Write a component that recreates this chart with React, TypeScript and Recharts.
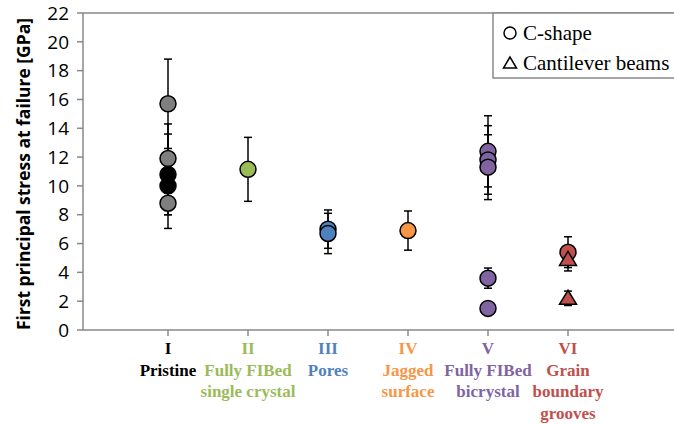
import React from 'react';
import { ScatterChart, Scatter, XAxis, YAxis, ErrorBar, ReferenceLine } from 'recharts';

const categories = ['I', 'II', 'III', 'IV', 'V', 'VI'];
const categoryLines = [
  ['Pristine'],
  ['Fully FIBed', 'single crystal'],
  ['Pores'],
  ['Jagged', 'surface'],
  ['Fully FIBed', 'bicrystal'],
  ['Grain', 'boundary', 'grooves'],
];
const categoryColors = ['#000000', '#9BBB59', '#4F81BD', '#F79646', '#8064A2', '#C0504D'];

// C-shape values per group (GPa) and their error bars
const greyY = [15.7, 11.9, 8.8];
const greyErr = [3.1, 2.4, 1.75];
const blackY = [10.8, 10.0];
const blackErr = [2.8, 2.0];
const greenY = [11.15];
const greenErr = [2.22];
const blueY = [7.0, 6.7];
const blueErr = [1.33, 1.4];
const orangeY = [6.9];
const orangeErr = [1.36];
const purpleY = [12.4, 11.8, 11.3, 3.6, 1.5];
const purpleErr = [2.47, 2.38, 2.25, 0.7, 0];
const redCircleY = [5.4];
const redCircleErr = [1.07];
// cantilever beams
const redTriY = [4.9, 2.2];
const redTriErr = [0.8, 0.5];

const yTicks = [0, 2, 4, 6, 8, 10, 12, 14, 16, 18, 20, 22];
const axisGrey = '#898989';

const build = (cat: number, ys: number[], errs: number[]) =>
  ys.map((y, i) => ({ x: cat, y, err: errs[i] }));

const series = [
  { name: 'grey', data: build(1, greyY, greyErr), fill: '#7F7F7F', tri: false },
  { name: 'black', data: build(1, blackY, blackErr), fill: '#000000', tri: false },
  { name: 'green', data: build(2, greenY, greenErr), fill: '#9BBB59', tri: false },
  { name: 'blue', data: build(3, blueY, blueErr), fill: '#4F81BD', tri: false },
  { name: 'orange', data: build(4, orangeY, orangeErr), fill: '#F79646', tri: false },
  { name: 'purple', data: build(5, purpleY, purpleErr), fill: '#8064A2', tri: false },
  { name: 'redCircle', data: build(6, redCircleY, redCircleErr), fill: '#C0504D', tri: false },
  { name: 'redTri', data: build(6, redTriY, redTriErr), fill: '#C0504D', tri: true },
];

const circleShape = (fill: string) => (p: any) => (
  <circle cx={p.cx} cy={p.cy} r={8} fill={fill} stroke="#000" strokeWidth={1.5} />
);

const triShape = (fill: string) => (p: any) => (
  <polygon
    points={`${p.cx},${p.cy - 8} ${p.cx - 8.5},${p.cy + 6} ${p.cx + 8.5},${p.cy + 6}`}
    fill={fill}
    stroke="#000"
    strokeWidth={1.5}
  />
);

const CatTick = (props: any) => {
  const { x, y, payload } = props;
  const i = payload.value - 1;
  const lines = [categories[i], ...categoryLines[i]];
  return (
    <g>
      {lines.map((t, k) => (
        <text
          key={k}
          x={x}
          y={y + 16 + k * 21.5}
          textAnchor="middle"
          fill={i === 0 ? '#000' : categoryColors[i]}
          fontFamily="Liberation Serif"
          fontWeight="bold"
          fontSize={17}
        >
          {t}
        </text>
      ))}
    </g>
  );
};

const yLabel = () => (
  <text
    x={23}
    y={174}
    transform="rotate(-90 23 174)"
    textAnchor="middle"
    dominantBaseline="central"
    fontFamily="Open Sans"
    fontWeight="bold"
    fontSize={17}
    fill="#000"
    textLength={312}
    lengthAdjust="spacingAndGlyphs"
  >
    First principal stress at failure [GPa]
  </text>
);

export default function App() {
  return (
    <div style={{ position: 'fixed', left: 0, top: 0, width: 674, height: 424, background: '#fff' }}>
      <ScatterChart width={674} height={424} margin={{ top: 13, right: 0, bottom: 0, left: 0 }}>
        <XAxis
          type="number"
          dataKey="x"
          domain={[-0.0625, 7.325]}
          ticks={[1, 2, 3, 4, 5, 6]}
          interval={0}
          allowDataOverflow
          height={94}
          tickSize={6}
          axisLine={{ stroke: axisGrey, strokeWidth: 1.5 }}
          tickLine={{ stroke: axisGrey, strokeWidth: 1.5 }}
          tick={<CatTick />}
        />
        <YAxis
          type="number"
          dataKey="y"
          domain={[0, 22]}
          ticks={yTicks}
          interval={0}
          width={83}
          tickSize={6}
          tickMargin={8}
          axisLine={{ stroke: axisGrey, strokeWidth: 1.5 }}
          tickLine={{ stroke: axisGrey, strokeWidth: 1.5 }}
          tick={{ fill: '#000', fontSize: 19, fontFamily: 'Open Sans' }}
          label={{ content: yLabel }}
        />
        <ReferenceLine y={22} stroke={axisGrey} strokeWidth={1.5} />
        {series.map((s) => (
          <Scatter
            key={s.name}
            data={s.data}
            dataKey="y"
            isAnimationActive={false}
            shape={s.tri ? triShape(s.fill) : circleShape(s.fill)}
          >
            <ErrorBar dataKey="err" direction="y" width={4} stroke="#000" strokeWidth={1.5} />
          </Scatter>
        ))}
      </ScatterChart>
      <svg style={{ position: 'absolute', left: 492, top: 12 }} width={182} height={68}>
        <rect x={1} y={1} width={200} height={65} fill="#fff" stroke={axisGrey} strokeWidth={1.5} />
        <circle cx={18} cy={21} r={6} fill="none" stroke="#000" strokeWidth={1.5} />
        <text x={31} y={28} fill="#000" fontFamily="Liberation Serif" fontSize={21}>
          C-shape
        </text>
        <polygon points="18,45 11.5,56 24.5,56" fill="none" stroke="#000" strokeWidth={1.5} />
        <text x={31} y={58} fill="#000" fontFamily="Liberation Serif" fontSize={21}>
          Cantilever beams
        </text>
      </svg>
    </div>
  );
}
